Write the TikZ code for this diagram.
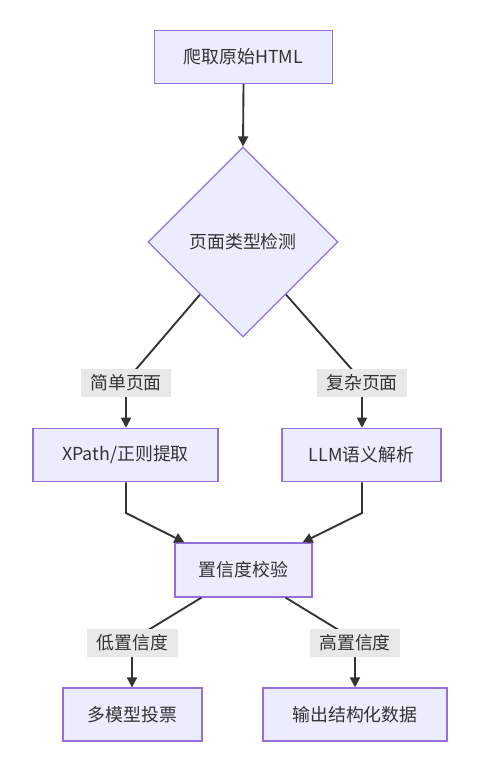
\documentclass[tikz,border=0pt]{standalone}
\usepackage{fontspec}
\setmainfont{Noto Sans CJK SC}
\usetikzlibrary{shapes.geometric,arrows.meta,calc}
\definecolor{nodefill}{HTML}{ECECFF}
\definecolor{nodeline}{HTML}{9370DB}
\definecolor{txt}{HTML}{333333}
\definecolor{lblbg}{HTML}{E8E8E8}
\begin{document}
\begin{tikzpicture}[x=0.75pt,y=-0.75pt,
  font=\fontsize{13.4}{15}\selectfont, text=txt,
  box/.style={draw=nodeline, fill=nodefill, line width=0.9pt, rectangle, inner sep=0pt},
  dia/.style={draw=nodeline, fill=nodefill, line width=0.9pt, diamond, aspect=1, inner sep=0pt, minimum width=142.5pt, minimum height=142.5pt},
  lbl/.style={fill=lblbg, inner sep=0pt, minimum height=21pt},
  edge/.style={draw=txt, line width=1.4pt},
  arr/.style={edge, -{Triangle[length=7.5pt,width=7.5pt]}}]
\useasboundingbox (0,0) rectangle (499,758);
% nodes
\node[box, minimum width=134pt, minimum height=39.75pt] (crawl) at (243.5,57) {爬取原始HTML};
\node[dia] (detect) at (243,242) {页面类型检测};
\node[box, minimum width=138.75pt, minimum height=40pt] (xpath) at (125.5,455) {XPath/正则提取};
\node[box, minimum width=119.25pt, minimum height=40pt] (llm) at (361.5,455) {LLM语义解析};
\node[box, minimum width=102.75pt, minimum height=40.5pt] (conf) at (243.5,570) {置信度校验};
\node[box, minimum width=104.25pt, minimum height=39.75pt] (vote) at (132.5,714.5) {多模型投票};
\node[box, minimum width=138pt, minimum height=39.75pt] (out) at (355,714.5) {输出结构化数据};
% edges
\draw[arr] (crawl.south) -- (detect.north);
\coordinate (dl) at ($(detect.south)!0.45!(detect.west)$);
\coordinate (dr) at ($(detect.south)!0.45!(detect.east)$);
\coordinate (simplebend) at (126,381);
\coordinate (complexbend) at (362,381);
\draw[arr] (dl) -- (simplebend) -- (xpath.north -| simplebend);
\draw[arr] (dr) -- (complexbend) -- (llm.north -| complexbend);
\coordinate (xb) at (126,513);
\coordinate (lb) at (362,513);
\draw[arr] (xpath.south -| xb) -- (xb) -- ($(conf.north west)+(10,0)$);
\draw[arr] (llm.south -| lb) -- (lb) -- ($(conf.north east)+(-10,0)$);
\coordinate (lowbend) at (132,640);
\coordinate (highbend) at (355,640);
\draw[arr] ($(conf.south west)+(27,0)$) -- (lowbend) -- (vote.north -| lowbend);
\draw[arr] ($(conf.south east)+(-27,0)$) -- (highbend) -- (out.north -| highbend);
% edge labels
\node[lbl, minimum width=67pt] (l1) at (126,383) {简单页面};
\node[lbl, minimum width=67.5pt] (l2) at (362,383) {复杂页面};
\node[lbl, minimum width=68.25pt] (l3) at (132.5,642.5) {低置信度};
\node[lbl, minimum width=67.5pt] (l4) at (355,642.5) {高置信度};
\end{tikzpicture}
\end{document}
